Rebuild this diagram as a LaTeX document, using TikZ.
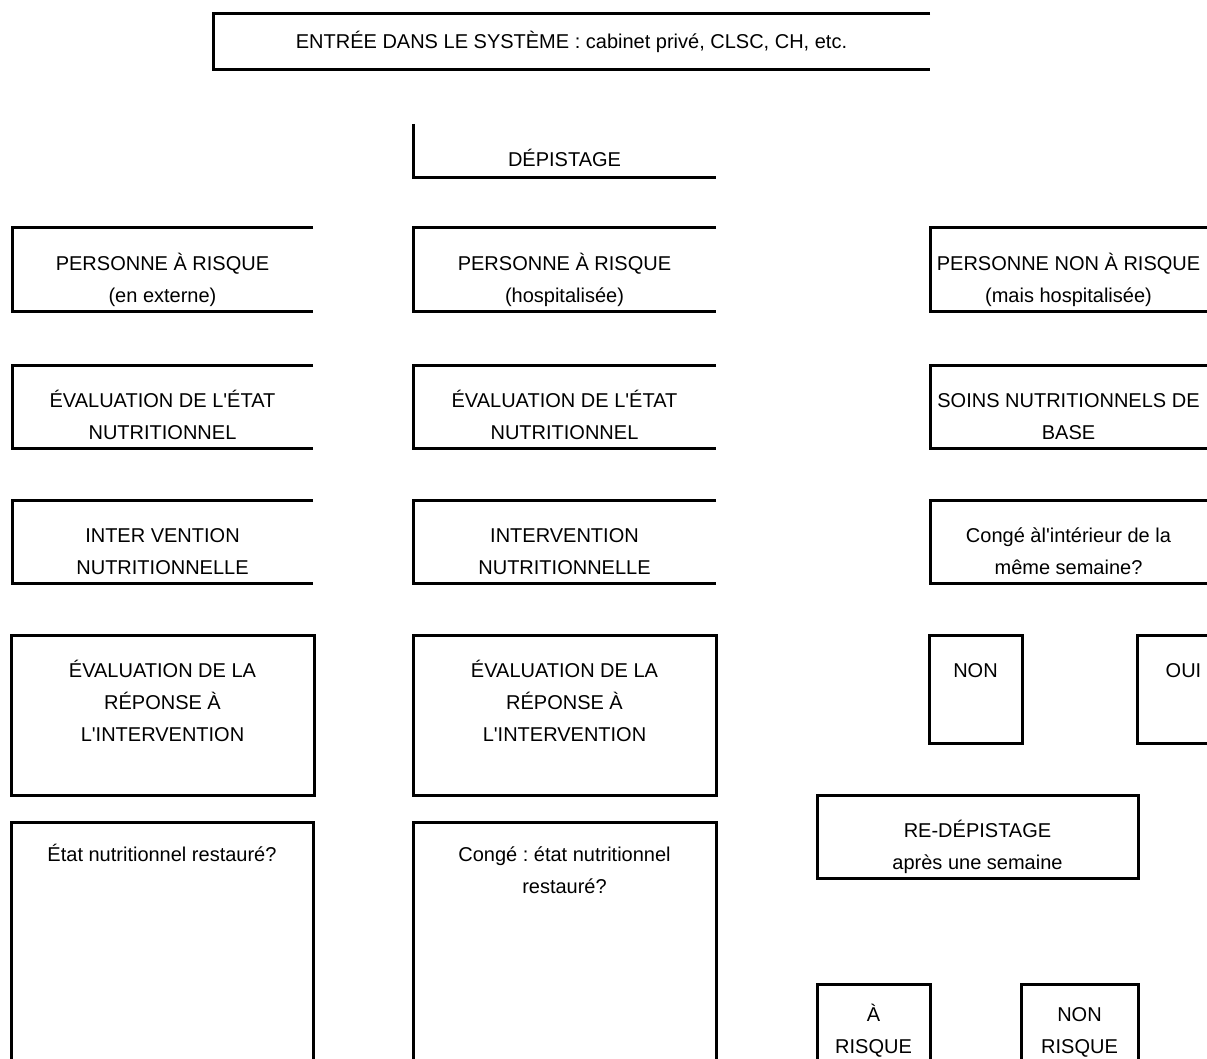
\documentclass[tikz,border=0pt]{standalone}
\usepackage{fontspec}
\setmainfont{Liberation Sans}[Ligatures=TeXOff]
\frenchspacing

% text of a box, set from its top edge
\newcommand{\celltxt}[4][20pt]{\parbox[c][#3pt][t]{#2pt}{\centering\vspace*{#1}\strut #4\par}}

\begin{document}
\begin{tikzpicture}
	[x=1pt,y=-1pt,line width=3pt,every node/.style={inner sep=0pt,outer sep=0pt,font=\fontsize{20}{32}\selectfont}]
	\useasboundingbox[fill=white] (0,0) rectangle (1207,1059);
	\clip (0,0) rectangle (1207,1059);

	\node[minimum width=717,minimum height=56] (entree) at (571.5,42) {ENTRÉE DANS LE SYSTÈME : cabinet privé, CLSC, CH, etc.};
	\node (depist) at (564.5,151) {\celltxt{303}{54}{DÉPISTAGE}};

	\node (ext1) at (162.5,269.5) {\celltxt{301}{83}{PERSONNE À RISQUE\\(en externe)}};
	\node (hosp1) at (564.5,269.5) {\celltxt{303}{83}{PERSONNE À RISQUE\\(hospitalisée)}};
	\node (nonr1) at (1068.5,269.5) {\celltxt{277}{83}{PERSONNE NON À RISQUE\\(mais hospitalisée)}};

	\node (ext2) at (162.5,406.5) {\celltxt{301}{83}{ÉVALUATION DE L'ÉTAT\\NUTRITIONNEL}};
	\node (hosp2) at (564.5,406.5) {\celltxt{303}{83}{ÉVALUATION DE L'ÉTAT\\NUTRITIONNEL}};
	\node (nonr2) at (1068.5,406.5) {\celltxt{277}{83}{SOINS NUTRITIONNELS DE\\BASE}};

	\node (ext3) at (162.5,541.5) {\celltxt{301}{83}{INTER VENTION\\NUTRITIONNELLE}};
	\node (hosp3) at (564.5,541.5) {\celltxt{303}{83}{INTERVENTION\\NUTRITIONNELLE}};
	\node (nonr3) at (1068.5,541.5) {\celltxt{277}{83}{Congé àl'intérieur de la\\même semaine?}};

	\node (ext4) at (162.5,715) {\celltxt{303}{160}{ÉVALUATION DE LA\\RÉPONSE À\\L'INTERVENTION}};
	\node (hosp4) at (564.5,715) {\celltxt{303}{160}{ÉVALUATION DE LA\\RÉPONSE À\\L'INTERVENTION}};
	\node (nonbox) at (975.5,689) {\celltxt{93}{108}{NON}};
	\node (ouibox) at (1183.5,689) {\celltxt{93}{108}{OUI}};

	\node (redep) at (977.5,836.5) {\celltxt{321}{83}{RE-DÉPISTAGE\\après une semaine}};

	% open at the foot of the page
	\node (ext5) at (162,972) {\celltxt[17pt]{302}{300}{État nutritionnel restauré?}};
	\node (hosp5) at (564.5,972) {\celltxt[17pt]{303}{300}{Congé : état nutritionnel\\restauré?}};
	\node (risk) at (873.5,1044) {\celltxt[15pt]{113}{120}{À\\RISQUE}};
	\node (norisk) at (1079.5,1044) {\celltxt[15pt]{117}{120}{NON\\RISQUE}};

	\foreach \b in {entree,ext1,hosp1,nonr1,ext2,hosp2,nonr2,ext3,hosp3,nonr3,ouibox}
	\draw (\b.north east) -- (\b.north west) -- (\b.south west) -- (\b.south east);
	\foreach \b in {ext4,hosp4,nonbox,redep}
	\draw (\b.north west) rectangle (\b.south east);
	\foreach \b in {ext5,hosp5,risk,norisk}
	\draw (\b.south west) -- (\b.north west) -- (\b.north east) -- (\b.south east);
	\draw (depist.north west) -- (depist.south west) -- (depist.south east);
\end{tikzpicture}
\end{document}
